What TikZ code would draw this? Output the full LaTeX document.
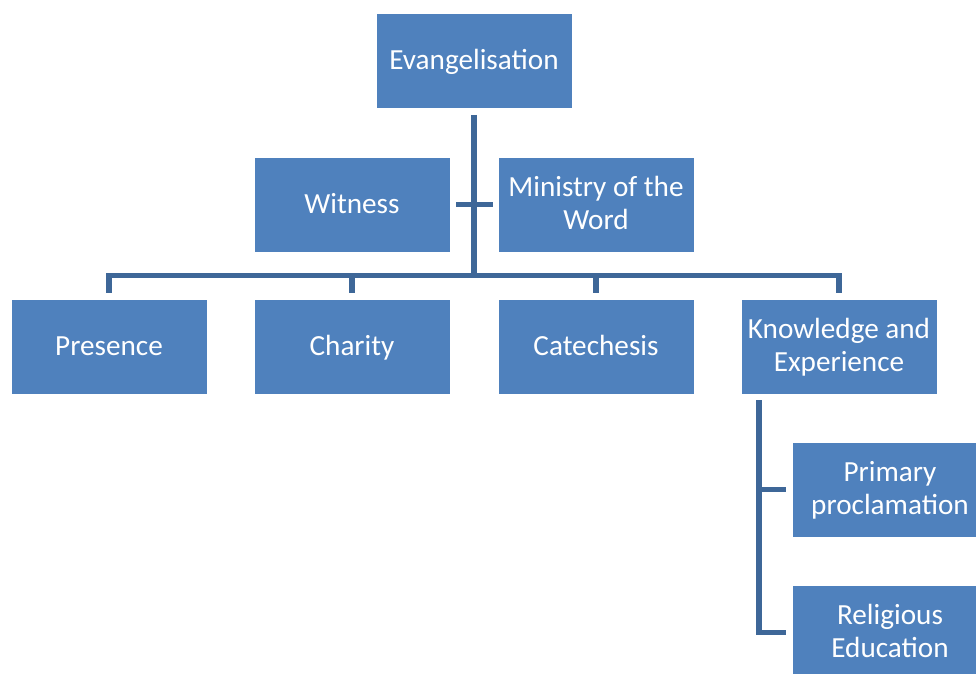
\documentclass[tikz,border=0pt]{standalone}
\usepackage{fontspec}
\setmainfont{Carlito}
\definecolor{boxblue}{HTML}{4F81BD}
\definecolor{lineblue}{HTML}{3E6798}
\tikzset{
  box/.style={draw=white, line width=0.6pt, fill=boxblue, text=white,
    minimum width=196pt, minimum height=95pt, inner sep=2pt, align=center,
    font=\fontsize{29.2}{32.5}\selectfont},
  oneline/.style={box, text height=22pt, text depth=5pt},
  twoline/.style={box, text height=54.5pt, text depth=5pt},
  conn/.style={draw=lineblue, line width=5.5pt, line join=miter, line cap=butt}
}
\begin{document}
\begin{tikzpicture}[x=1pt,y=-1pt]
\useasboundingbox (0,0) rectangle (976,673);
\node[oneline] (ev) at (474,61) {Evangelisation};
\node[oneline] (wit) at (352,204.5) {Witness};
\node[twoline] (min) at (596,204.5) {Ministry of the\\Word};
\node[oneline] (pres) at (109,346.5) {Presence};
\node[oneline] (char) at (352,346.5) {Charity};
\node[oneline] (cat) at (596,346.5) {Catechesis};
\node[twoline] (ke) at (839,346.5) {Knowledge and\\Experience};
\node[twoline] (prim) at (890,489.5) {Primary\\proclamation};
\node[twoline] (rel) at (890,632.5) {Religious\\Education};
\coordinate (bus) at (474,275.5);
\coordinate (sp) at (759,400);
% main trunk
\draw[conn] ([yshift=-6pt]ev.south) -- (ev.south |- bus);
\draw[conn] ([xshift=6pt]wit.east) -- ([xshift=-5pt]min.west);
\draw[conn] ([yshift=6pt]pres.north) -- (pres.north |- bus) -- (ke.north |- bus) -- ([yshift=6pt]ke.north);
\draw[conn] ([yshift=6pt]char.north) -- (char.north |- bus);
\draw[conn] ([yshift=6pt]cat.north) -- (cat.north |- bus);
% knowledge children
\draw[conn] (sp) |- ([xshift=-6pt]rel.west);
\draw[conn] ([xshift=-6pt]prim.west) -- (prim.west -| sp);
\end{tikzpicture}
\end{document}
